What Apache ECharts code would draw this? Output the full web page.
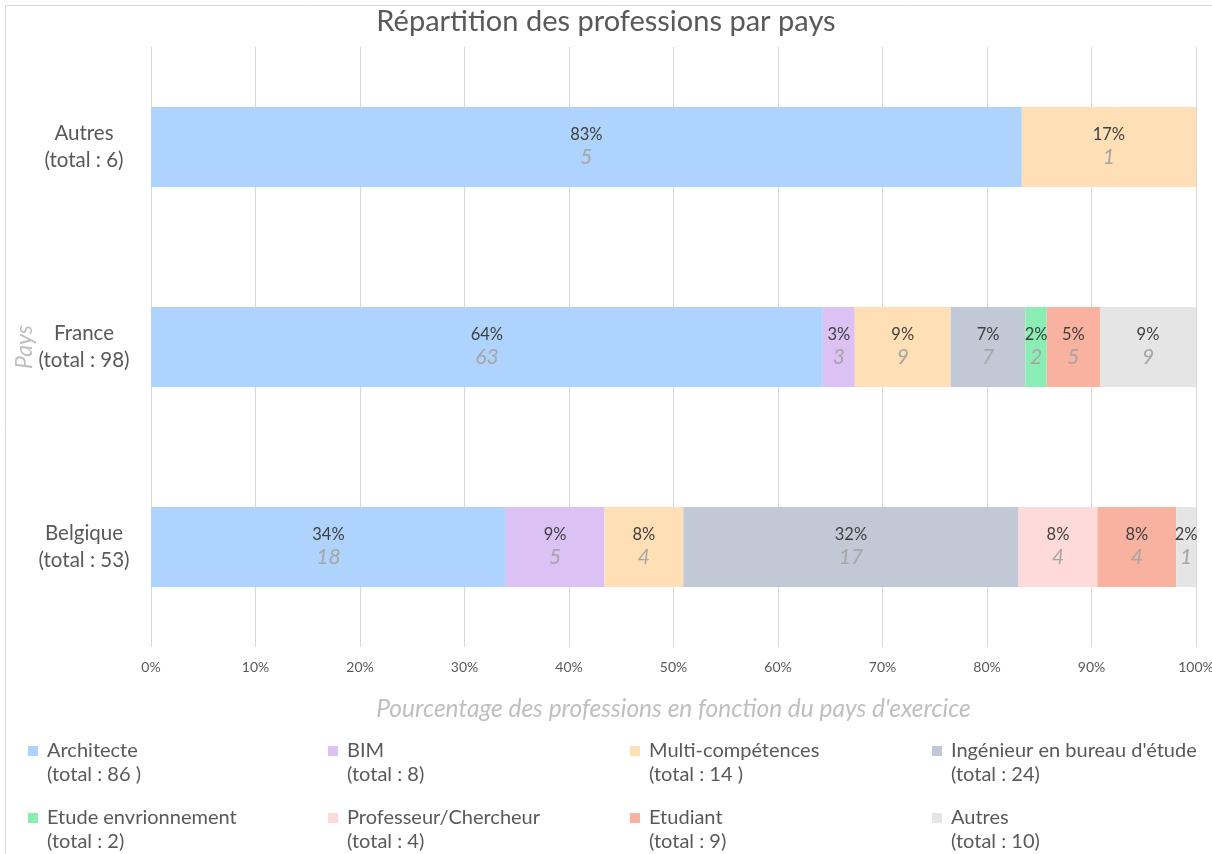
<!DOCTYPE html>
<html>
<head>
<meta charset="utf-8">
<script src="https://cdn.jsdelivr.net/npm/echarts@6/dist/echarts.min.js"></script>
<style>
  html, body { margin: 0; padding: 0; background: #fff; }
  #chart { width: 1212px; height: 854px; }
</style>
</head>
<body>
<div id="chart"></div>
<script>
// pays (de bas en haut)
var pays = ['Belgique', 'France', 'Autres'];
var paysLabels = ['Belgique\n(total : 53)', 'France\n(total : 98)', 'Autres\n(total : 6)'];

// nombre de personnes par profession, dans l'ordre des pays
var professions = ['Architecte', 'BIM', 'Multi-compétences', "Ingénieur en bureau d'étude",
  'Etude envrionnement', 'Professeur/Chercheur', 'Etudiant', 'Autres'];
var architecte = [18, 63, 5];
var bim = [5, 3, 0];
var multi = [4, 9, 1];
var ingenieur = [17, 7, 0];
var etudeEnv = [0, 2, 0];
var professeur = [4, 0, 0];
var etudiant = [4, 5, 0];
var autres = [1, 9, 0];
var counts = [architecte, bim, multi, ingenieur, etudeEnv, professeur, etudiant, autres];

// texte de la légende
var legendTotals = ['(total : 86 )', '(total : 8)', '(total : 14 )', '(total : 24)',
  '(total : 2)', '(total : 4)', '(total : 9)', '(total : 10)'];
var xTicks = [0, 10, 20, 30, 40, 50, 60, 70, 80, 90, 100];

var colors = ['#aed3fc', '#dbc1f4', '#ffe0b6', '#c0c9d5', '#8aedb3', '#fedad8', '#f9b1a0', '#e5e5e5'];
var font = 'Lato, "Open Sans", sans-serif';

// total par pays
var totals = pays.map(function (p, i) {
  var s = 0;
  counts.forEach(function (c) { s += c[i]; });
  return s;
});

var series = professions.map(function (name, k) {
  return {
    name: name,
    type: 'bar',
    stack: 'total',
    barWidth: 80,
    itemStyle: { color: colors[k] },
    data: counts[k].map(function (v, i) { return 100 * v / totals[i]; }),
    label: {
      show: true,
      position: 'inside',
      formatter: function (p) {
        var n = counts[k][p.dataIndex];
        if (!n) return '';
        return '{p|' + Math.round(p.value) + '%}\n{n|' + n + '}';
      },
      rich: {
        p: { fontFamily: font, fontSize: 16.5, color: '#404040', lineHeight: 21 },
        n: { fontFamily: font, fontSize: 21, fontStyle: 'italic', color: '#a6a6a6', lineHeight: 25 }
      }
    }
  };
});

// une légende par profession, 4 colonnes x 2 lignes
var legendX = [28, 328, 630, 932];
var legendY = [741, 808];
var legends = [];
var graphics = [{
  type: 'rect',
  shape: { x: 5.5, y: 5.5, width: 1400, height: 1000 },
  style: { fill: 'none', stroke: '#d9d9d9', lineWidth: 1 },
  silent: true
}];
professions.forEach(function (name, k) {
  var col = k % 4, row = Math.floor(k / 4);
  legends.push({
    left: legendX[col],
    top: legendY[row],
    padding: 0,
    data: [name],
    itemWidth: 10,
    itemHeight: 10,
    icon: 'rect',
    selectedMode: false,
    textStyle: { fontFamily: font, fontSize: 20, color: '#595959', padding: [0, 0, 0, 4] }
  });
  graphics.push({
    type: 'text',
    left: legendX[col] + 19,
    top: legendY[row] + 24,
    style: { text: legendTotals[k], font: '20px ' + font, fill: '#595959' },
    silent: true
  });
});

var option = {
  animation: false,
  title: {
    text: 'Répartition des professions par pays',
    left: 'center',
    top: 2,
    textStyle: { fontFamily: font, fontSize: 29, fontWeight: 'normal', color: '#595959' }
  },
  legend: legends,
  graphic: graphics,
  grid: { left: 151, right: 16, top: 47, bottom: 207, outerBoundsMode: 'none' },
  xAxis: {
    type: 'value',
    min: 0,
    max: 100,
    interval: 10,
    name: "Pourcentage des professions en fonction du pays d'exercice",
    nameLocation: 'middle',
    nameGap: 50,
    nameMoveOverlap: false,
    nameTextStyle: { fontFamily: font, fontSize: 24.5, fontStyle: 'italic', color: '#bfbfbf' },
    axisLine: { show: false },
    axisTick: { show: false },
    axisLabel: {
      margin: 13,
      fontFamily: font,
      fontSize: 14,
      color: '#595959',
      formatter: function (v) { return xTicks.indexOf(v) >= 0 ? v + '%' : ''; }
    },
    splitLine: { lineStyle: { color: '#d9d9d9' } }
  },
  yAxis: {
    type: 'category',
    data: pays,
    name: 'Pays',
    nameLocation: 'middle',
    nameGap: 115,
    nameMoveOverlap: false,
    nameTextStyle: { fontFamily: font, fontSize: 23, fontStyle: 'italic', color: '#bfbfbf' },
    axisLine: { show: false },
    axisTick: { show: false },
    axisLabel: {
      align: 'center',
      margin: 67,
      fontFamily: font,
      fontSize: 20.5,
      lineHeight: 27,
      color: '#595959',
      formatter: function (v, i) { return paysLabels[i]; }
    }
  },
  series: series
};

var chart = echarts.init(document.getElementById('chart'));
chart.setOption(option);
</script>
</body>
</html>
